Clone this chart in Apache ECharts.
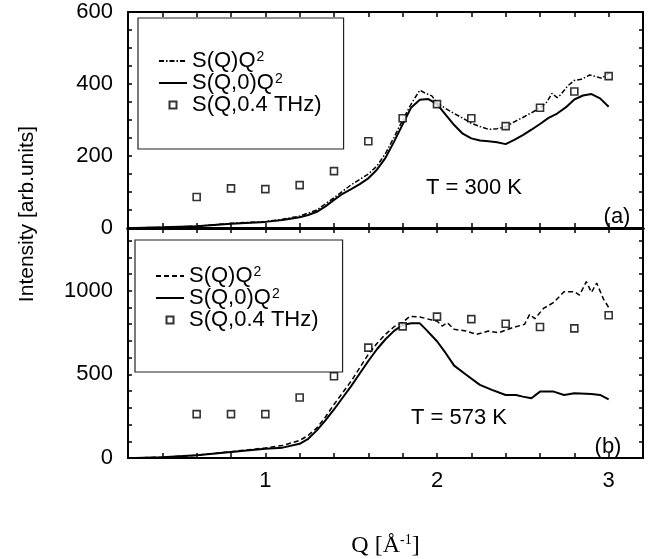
<!DOCTYPE html>
<html>
<head>
<meta charset="utf-8">
<script src="https://cdn.jsdelivr.net/npm/echarts@6/dist/echarts.min.js"></script>
<style>html,body{margin:0;padding:0;background:#fff}#c{width:651px;height:559px}</style>
</head>
<body>
<div id="c"></div>
<script>
// ---- data (Q in 1/Angstrom, intensity in arb. units) ----
var sqQ = [0.6, 0.8, 1.0, 1.2, 1.4, 1.6, 1.8, 2.0, 2.2, 2.4, 2.6, 2.8, 3.0];
// panel (a) T = 300 K
var topWQ = [86, 110, 108, 119, 158, 241, 305, 344, 305, 283, 334, 379, 422];
var topSQ_Q = [0.24,0.4,0.6,0.8,1.0,1.1,1.2,1.3,1.4,1.5,1.6,1.65,1.7,1.75,1.8,1.85,1.9,1.93,1.97,2.0,2.05,2.1,2.15,2.2,2.25,2.3,2.35,2.4,2.45,2.5,2.55,2.6,2.64,2.67,2.7,2.72,2.76,2.8,2.84,2.89,2.93,2.96,3.0];
var topSQ_I = [0,2,5,13,18,24,33,50,84,120,150,172,207,252,300,345,383,375,367,348,332,318,305,291,282,274,276,281,295,307,320,334,350,374,362,370,394,410,413,425,420,416,430];
var topS0_Q = [0.24,0.4,0.6,0.8,1.0,1.1,1.2,1.25,1.3,1.35,1.4,1.45,1.5,1.55,1.6,1.65,1.7,1.75,1.8,1.85,1.9,1.95,2.0,2.05,2.1,2.15,2.2,2.25,2.3,2.35,2.4,2.45,2.5,2.55,2.6,2.65,2.7,2.75,2.8,2.85,2.9,2.95,3.0];
var topS0_I = [0,2,5,12,17,22,30,36,45,60,78,95,108,122,138,162,195,240,288,335,356,358,344,315,286,262,249,243,241,238,233,245,258,273,289,306,318,335,357,368,372,360,337];
// panel (b) T = 573 K
var botWQ = [262, 262, 262, 362, 489, 660, 787, 845, 830, 803, 783, 775, 853];
var botSQ_Q = [0.24,0.4,0.6,0.8,1.0,1.1,1.2,1.25,1.3,1.35,1.4,1.45,1.5,1.55,1.6,1.65,1.7,1.75,1.8,1.84,1.9,1.97,2.0,2.03,2.06,2.1,2.17,2.23,2.3,2.36,2.44,2.51,2.54,2.57,2.62,2.68,2.74,2.8,2.83,2.87,2.9,2.93,2.97,3.0];
var botSQ_I = [0,5,16,38,60,75,105,135,180,245,320,390,460,540,620,685,740,785,810,846,843,825,819,789,809,769,759,739,759,749,779,799,859,833,894,930,994,994,974,1054,990,1046,950,900];
var botS0_Q = [0.24,0.4,0.6,0.8,1.0,1.1,1.2,1.25,1.3,1.35,1.4,1.45,1.5,1.55,1.6,1.65,1.7,1.75,1.8,1.85,1.9,1.935,2.0,2.05,2.1,2.17,2.25,2.32,2.4,2.46,2.5,2.55,2.6,2.68,2.74,2.8,2.9,2.95,3.0];
var botS0_I = [0,5,16,36,56,62,85,115,165,225,290,360,430,505,580,650,710,760,795,805,805,769,698,628,552,498,437,407,377,377,367,357,397,397,377,387,382,377,351];
var xTickLabels = [1, 2, 3];
var legendNames = {a1:'S(Q)Q{sup|2}', a2:'S(Q,0)Q{sup|2}', a3:'S(Q,0.4 THz)', b1:'S(Q)Q{sup|2}', b2:'S(Q,0)Q{sup|2}', b3:'S(Q,0.4 THz)'};

function zip(xs, ys){ return xs.map(function(x,i){ return [x, ys[i]]; }); }

var FONT = "'Liberation Sans', Arial, Helvetica, sans-serif";
var SERIF = "'Liberation Serif','Times New Roman',serif";
var black = '#000';

function xAx(grid, pos, lw, showLabels, extra){
  var o = {
    type:'value', gridIndex:grid, position:pos, min:0.2, max:3.2, interval:0.2,
    axisLine:{show:true, onZero:false, lineStyle:{color:black, width:lw}},
    axisTick:{show:true, inside:true, length:5, lineStyle:{color:black, width:1.5}},
    splitLine:{show:false},
    axisLabel:{show:showLabels, color:black, fontFamily:FONT, fontSize:22, margin:12,
      formatter:function(v){ var r=Math.round(v); return (Math.abs(v-r)<1e-6 && xTickLabels.indexOf(r)>=0)? String(r):''; }}
  };
  if(extra) for(var k in extra) o[k]=extra[k];
  return o;
}
function yAx(grid, pos, max, interval, labelStep, showLabels){
  return {
    type:'value', gridIndex:grid, position:pos, min:0, max:max, interval:interval,
    axisLine:{show:true, onZero:false, lineStyle:{color:black, width:2}},
    axisTick:{show:true, inside:true, length:4, lineStyle:{color:black, width:1.5}},
    splitLine:{show:false},
    axisLabel:{show:showLabels, color:black, fontFamily:FONT, fontSize:22, margin:15,
      showMaxLabel:true,
      formatter:function(v){ var r=Math.round(v); return (Math.abs(v-r)<1e-6 && r%labelStep===0)? String(r):''; }}
  };
}

var hideSym = {color:'rgba(0,0,0,0)', borderColor:'rgba(0,0,0,0)', borderWidth:0, opacity:0};
var squareIcon = 'path://M0,0 M28,7 M10.5,0 L17.5,0 L17.5,7 L10.5,7 Z';

var legendCommon = {
  orient:'vertical', itemWidth:28, itemHeight:7, itemGap:0, selectedMode:false,
  borderColor:'#222', borderWidth:1.2, backgroundColor:'#fff',
  textStyle:{color:black, fontFamily:FONT, fontSize:22, lineHeight:22,
    rich:{sup:{fontFamily:FONT, fontSize:14, lineHeight:22, verticalAlign:'top', padding:[0,0,0,1]}}},
  formatter:function(n){ return legendNames[n]; }
};
function legendData(p){
  return [
    {name:p+'1', itemStyle:hideSym},
    {name:p+'2', itemStyle:hideSym},
    {name:p+'3', icon:squareIcon}
  ];
}

var chart = echarts.init(document.getElementById('c'), null, {renderer:'canvas'});
chart.setOption({
  animation:false,
  backgroundColor:'#fff',
  grid:[
    {left:128, top:12, width:515, height:216},
    {left:128, top:228, width:515, height:230}
  ],
  xAxis:[
    xAx(0,'bottom',3,false),
    xAx(0,'top',2,false),
    xAx(1,'bottom',2,true,{name:'Q [Å{sup|-1}]', nameLocation:'middle', nameGap:75,
      nameTextStyle:{color:black, fontFamily:SERIF, fontSize:24,
        rich:{sup:{fontFamily:SERIF, fontSize:14, verticalAlign:'top', padding:[0,0,11,0]}}}}),
    xAx(1,'top',3,false)
  ],
  yAxis:[
    yAx(0,'left',600,50,200,true),
    yAx(0,'right',600,50,200,false),
    yAx(1,'left',1375,100,500,true),
    yAx(1,'right',1375,100,500,false)
  ],
  legend:[
    Object.assign({}, legendCommon, {left:138, top:18, padding:[32,22,33,20], data:legendData('a')}),
    Object.assign({}, legendCommon, {left:135, top:240, padding:[25,24,41,20], data:legendData('b')})
  ],
  series:[
    {name:'a1', type:'line', xAxisIndex:0, yAxisIndex:0, symbol:'none', data:zip(topSQ_Q, topSQ_I),
      lineStyle:{color:black, width:1.5, type:[5,2,1.5,2]}, itemStyle:{color:black}},
    {name:'a2', type:'line', xAxisIndex:0, yAxisIndex:0, symbol:'none', data:zip(topS0_Q, topS0_I),
      lineStyle:{color:black, width:2}, itemStyle:{color:black}},
    {name:'a3', type:'scatter', xAxisIndex:0, yAxisIndex:0, symbol:'rect', symbolSize:7, data:zip(sqQ, topWQ),
      itemStyle:{color:'#fff', borderColor:black, borderWidth:1.6}, z:5},
    {name:'b1', type:'line', xAxisIndex:2, yAxisIndex:2, symbol:'none', data:zip(botSQ_Q, botSQ_I),
      lineStyle:{color:black, width:1.5, type:[5,3]}, itemStyle:{color:black}},
    {name:'b2', type:'line', xAxisIndex:2, yAxisIndex:2, symbol:'none', data:zip(botS0_Q, botS0_I),
      lineStyle:{color:black, width:2}, itemStyle:{color:black}},
    {name:'b3', type:'scatter', xAxisIndex:2, yAxisIndex:2, symbol:'rect', symbolSize:7, data:zip(sqQ, botWQ),
      itemStyle:{color:'#fff', borderColor:black, borderWidth:1.6}, z:5}
  ],
  graphic:[
    {type:'text', x:27, y:214, rotation:Math.PI/2, style:{text:'Intensity [arb.units]', fill:black, font:'21px '+FONT, textAlign:'center', textVerticalAlign:'middle'}},
    {type:'text', x:474, y:188, style:{text:'T = 300 K', fill:black, font:'22px '+FONT, textAlign:'center', textVerticalAlign:'middle'}},
    {type:'text', x:617, y:217, style:{text:'(a)', fill:black, font:'22px '+FONT, textAlign:'center', textVerticalAlign:'middle'}},
    {type:'text', x:459, y:418, style:{text:'T = 573 K', fill:black, font:'22px '+FONT, textAlign:'center', textVerticalAlign:'middle'}},
    {type:'text', x:608, y:447, style:{text:'(b)', fill:black, font:'22px '+FONT, textAlign:'center', textVerticalAlign:'middle'}}
  ]
});
</script>
</body>
</html>
